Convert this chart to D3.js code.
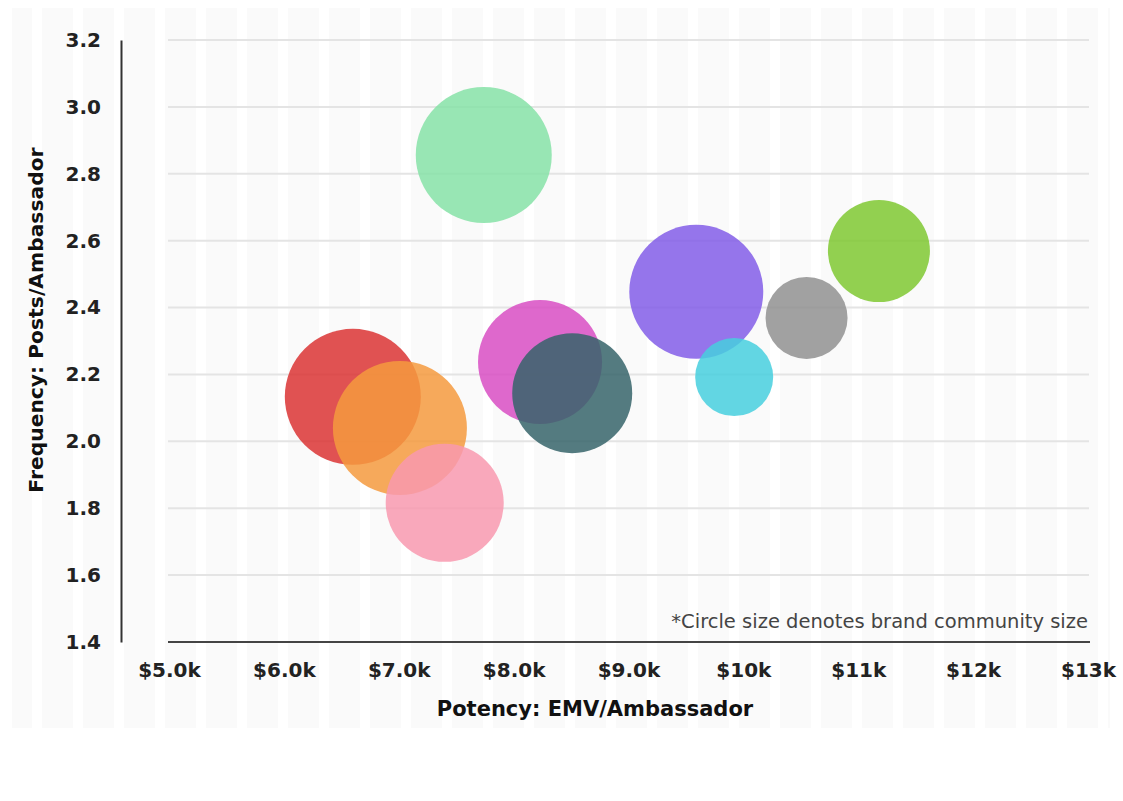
<!DOCTYPE html>
<html><head><meta charset="utf-8">
<script src="https://cdn.jsdelivr.net/npm/d3@7"></script>
<style>
html,body{margin:0;padding:0;background:#fff;}
svg{display:block;}
text{font-family:"DejaVu Sans",sans-serif;}
</style></head>
<body>
<svg id="chart" width="1123" height="801"></svg>
<script>
// ---- data ----
const brands   = ["Mint","Red","Orange","Pink","Magenta","Slate","Purple","Cyan","Gray","Lime"];
const potency  = [7.74, 6.60, 7.01, 7.40, 8.23, 8.51, 9.59, 9.92, 10.55, 11.18]; // $k EMV/Ambassador
const frequency= [2.856, 2.133, 2.040, 1.816, 2.237, 2.144, 2.447, 2.192, 2.369, 2.569];
const community= [68, 68, 67, 59, 62, 60, 67, 39, 41, 51]; // relative community size (radius units)
const colors   = ["#86e2a7","#db3434","#f59a3e","#f899af","#d84ec3","#36646a","#835de7","#47cfde","#909090","#7fc831"];
const xTicks   = [5,6,7,8,9,10,11,12,13];
const xTickLabels = ["$5.0k","$6.0k","$7.0k","$8.0k","$9.0k","$10k","$11k","$12k","$13k"];
const yTicks   = [1.4,1.6,1.8,2.0,2.2,2.4,2.6,2.8,3.0,3.2];

const svg = d3.select("#chart");

// faint striped background panel
const bg = svg.append("g");
bg.append("rect").attr("x",12).attr("y",8).attr("width",1098).attr("height",720).attr("fill","#fafafa");
d3.range(32,1110,41).forEach(sx=>{
  bg.append("rect").attr("x",sx).attr("y",8).attr("width",10).attr("height",720).attr("fill","#ffffff");
});

const x = d3.scaleLinear().domain([5,13]).range([169,1088]);
const y = d3.scaleLinear().domain([1.4,3.2]).range([642,40]);
const r = d3.scaleLinear().domain([0,68]).range([0,68]);

// gridlines
svg.append("g").selectAll("line").data(yTicks.filter(d=>d>1.4)).join("line")
  .attr("x1",168).attr("x2",1089)
  .attr("y1",d=>y(d)).attr("y2",d=>y(d))
  .attr("stroke","#e4e4e4").attr("stroke-width",2);

// y axis
const yAxis = d3.axisLeft(y).tickValues(yTicks).tickFormat(d3.format(".1f")).tickSize(0).tickPadding(20);
const gy = svg.append("g").attr("transform","translate(121,0)").call(yAxis);
gy.select(".domain").attr("stroke","#333").attr("stroke-width",2);
gy.selectAll("text").attr("font-size",20).attr("font-weight",700).attr("fill","#222")
  .attr("font-family","DejaVu Sans,sans-serif");

// x axis
const xAxis = d3.axisBottom(x).tickValues(xTicks).tickFormat((d,i)=>xTickLabels[i]).tickSize(0).tickPadding(21);
const gx = svg.append("g").attr("transform","translate(0,642)").call(xAxis);
gx.select(".domain").attr("stroke","#444").attr("stroke-width",2).attr("d","M168,0H1090");
gx.selectAll("text").attr("font-size",20).attr("font-weight",700).attr("fill","#222")
  .attr("font-family","DejaVu Sans,sans-serif");

// bubbles
const data = brands.map((b,i)=>({b, x:potency[i], y:frequency[i], s:community[i], c:colors[i]}));
svg.append("g").selectAll("circle").data(data).join("circle")
  .attr("cx",d=>x(d.x)).attr("cy",d=>y(d.y)).attr("r",d=>r(d.s))
  .attr("fill",d=>d.c).attr("fill-opacity",0.85);

// note
svg.append("text").attr("x",1088).attr("y",628).attr("text-anchor","end")
  .attr("font-size",19.5).attr("fill","#444").text("*Circle size denotes brand community size");

// axis titles
svg.append("text").attr("x",595).attr("y",716).attr("text-anchor","middle")
  .attr("font-size",21).attr("font-weight",700).attr("fill","#111").text("Potency: EMV/Ambassador");
svg.append("text").attr("transform","translate(43,320) rotate(-90)").attr("text-anchor","middle")
  .attr("font-size",20.3).attr("font-weight",700).attr("fill","#111").text("Frequency: Posts/Ambassador");
</script>
</body></html>
